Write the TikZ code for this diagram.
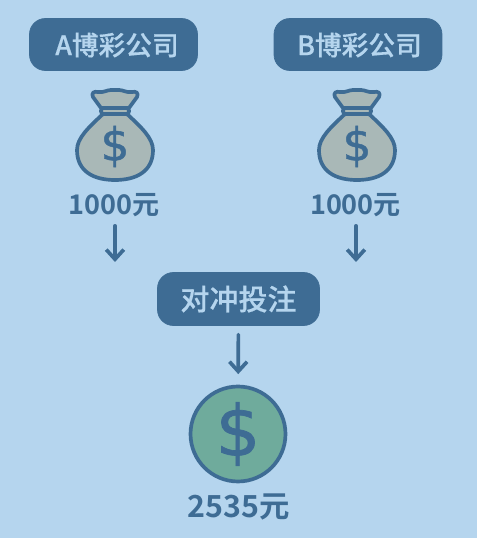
\documentclass[tikz,border=0pt]{standalone}
\usepackage{fontspec}
\usetikzlibrary{arrows.meta}
\newfontfamily\cjk{Noto Sans CJK SC Bold}
\newfontfamily\cjkbox[FakeBold=0.5]{Noto Sans CJK SC Medium}
\newfontfamily\dollarfont[FakeBold=1]{DejaVu Sans}
\definecolor{sky}{HTML}{B5D5EE}
\definecolor{navy}{HTML}{3E6C94}
\definecolor{sack}{HTML}{A9B8B7}
\definecolor{mint}{HTML}{6FAB9C}
\tikzset{
  house/.style={fill=navy,draw=navy,rounded corners=9pt,text=sky,inner sep=0pt,
    font=\cjkbox\fontsize{15.2}{18}\selectfont},
  amount/.style={text=navy,inner sep=0pt,font=\cjk\fontsize{15.4}{18}\selectfont},
  flow/.style={-{Straight Barb[length=5.5pt,width=10pt]},navy,line width=2.1pt,line cap=round},
  moneybag/.pic={
    % body first, neck band and ruffle sit on top of it
    \draw[fill=sack,draw=navy,line width=2.1pt,line join=round]
      (-12,21) .. controls (-26,8) and (-38,-3) .. (-38,-15)
      .. controls (-38,-36) and (-22,-45) .. (0,-45)
      .. controls (22,-45) and (38,-36) .. (38,-15)
      .. controls (38,-3) and (26,8) .. (12,21) -- cycle;
    \draw[fill=sack,draw=navy,line width=2.1pt,line join=round]
      (-14,27) -- (-22,38) .. controls (-24,42) and (-21,44) .. (-17,43)
      .. controls (-12,42) and (-8,45) .. (-4,45)
      .. controls (-2,45) and (2,45) .. (4,45)
      .. controls (8,45) and (12,42) .. (17,43)
      .. controls (21,44) and (24,42) .. (22,38) -- (14,27) -- cycle;
    \draw[fill=sack,draw=navy,line width=2.1pt,rounded corners=1.5pt]
      (-14,21) rectangle (14,27);
    \node[text=navy,inner sep=0pt,font=\dollarfont\fontsize{26}{30}\selectfont] (-sign) at (0,-11.5) {\$};
  }
}

\begin{document}
\begin{tikzpicture}[x=.02cm,y=.02cm]
  \useasboundingbox[fill=sky] (0,0) rectangle (477,538);

  % the two bookmakers
  \foreach \bx/\tx/\sx/\ax/\fx/\name/\lab in {113.5/117/115/114/115/A/A博彩公司,358/359.5/357/355.5/356/B/B博彩公司}{
    \node[house,minimum width=3.36cm,minimum height=1.04cm] (house\name) at (\bx,493.5) {};
    \node[text=sky,inner sep=0pt,font=\cjkbox\fontsize{15.2}{18}\selectfont] (title\name) at (\tx,493) {\lab};
    \pic (bag\name) at (\sx,403) {moneybag};
    \node[amount] (amt\name) at (\ax,333) {1000元};
    \coordinate (in\name) at (\fx,276);
    \draw[flow,shorten <=5pt] (in\name |- amt\name.south) -- (in\name);
  }

  \node[house,minimum width=3.24cm,minimum height=1.06cm,
        font=\cjkbox\fontsize{16.5}{20}\selectfont] (hedge) at (238.5,239) {对冲投注};

  % payout
  \node[circle,fill=mint,draw=navy,line width=2.1pt,minimum size=1.9cm,inner sep=0pt,
        text=navy,font=\dollarfont\fontsize{40}{44}\selectfont] (coin) at (238,104) {\$};
  \node[amount,font=\cjk\fontsize{17.3}{20}\selectfont] (total) at (238.5,31) {2535元};
  \draw[flow,shorten <=5pt,shorten >=6pt] (hedge) -- (coin);
\end{tikzpicture}
\end{document}
